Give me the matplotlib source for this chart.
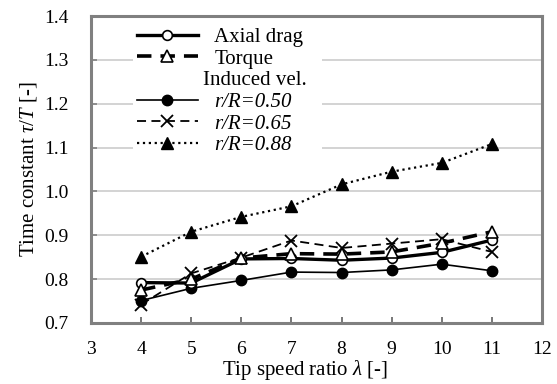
import matplotlib
matplotlib.use("Agg")
import matplotlib.pyplot as plt
from matplotlib.lines import Line2D

plt.rcParams['font.family'] = ['Liberation Serif', 'DejaVu Serif']
plt.rcParams['mathtext.fontset'] = 'custom'
plt.rcParams['mathtext.rm'] = 'Liberation Serif'
plt.rcParams['mathtext.it'] = 'Liberation Serif:italic'

# tip speed ratio
tsr = [4, 5, 6, 7, 8, 9, 10, 11]

# time constants
axial_drag = [0.792, 0.791, 0.846, 0.847, 0.843, 0.848, 0.861, 0.889]
torque = [0.775, 0.800, 0.848, 0.858, 0.857, 0.862, 0.882, 0.908]
ind_050 = [0.751, 0.779, 0.797, 0.816, 0.815, 0.821, 0.834, 0.819]
ind_065 = [0.742, 0.813, 0.849, 0.888, 0.871, 0.881, 0.891, 0.862]
ind_088 = [0.851, 0.908, 0.942, 0.966, 1.016, 1.045, 1.065, 1.108]

fig = plt.figure(figsize=(5.57, 3.84), dpi=100)
ax = fig.add_axes([0.1634, 0.159, 0.8096, 0.7993])

ax.plot(tsr, axial_drag, '-', color='black', lw=2.4, marker='o', ms=7,
        mfc='white', mec='black', mew=1.2, label='Axial drag', zorder=4)
ax.plot(tsr, torque, '--', color='black', lw=2.6, dashes=(4, 2.5), marker='^',
        ms=8, mfc='white', mec='black', mew=1.2, label='Torque', zorder=5)
header = Line2D([], [], linestyle='none', marker=None, label='Induced vel.')
ax.plot(tsr, ind_050, '-', color='black', lw=1.2, marker='o', ms=7.5,
        mfc='black', mec='black', label='r/R=0.50', zorder=3)
ax.plot(tsr, ind_065, '--', color='black', lw=1.3, dashes=(5, 3), marker='x',
        ms=9, mew=1.3, label='r/R=0.65', zorder=3)
ax.plot(tsr, ind_088, ':', color='black', lw=1.6, marker='^', ms=9,
        mfc='black', mec='black', label='r/R=0.88', zorder=3)

ax.set_xlim(3, 12)
ax.set_ylim(0.7, 1.4)
ax.set_xticks(range(3, 13))
ax.set_yticks([0.7, 0.8, 0.9, 1.0, 1.1, 1.2, 1.3, 1.4])
ax.set_yticklabels(['0.7', '0.8', '0.9', '1.0', '1.1', '1.2', '1.3', '1.4'])
ax.yaxis.grid(True, color='#cccccc', lw=1.2)
ax.set_axisbelow(True)
for sp in ax.spines.values():
    sp.set_color('#808080')
    sp.set_linewidth(2.2)
ax.tick_params(axis='x', direction='in', length=4, width=1.2, color='#606060',
               labelsize=14, pad=13)
ax.tick_params(axis='y', direction='in', length=4, width=1.2, color='#808080',
               labelsize=14, pad=16)

ax.set_xlabel(r'Tip speed ratio $\lambda$ [-]', fontsize=15, labelpad=-1)
ax.xaxis.set_label_coords(0.475, -0.115)
ax.set_ylabel(r'Time constant $\tau/T$ [-]', fontsize=15, labelpad=4)

h, l = ax.get_legend_handles_labels()
handles = h[:2] + [header] + h[2:]
labels = l[:2] + ['Induced vel.'] + l[2:]
leg = ax.legend(handles, labels, loc='upper left', bbox_to_anchor=(0.07, 1.01),
                frameon=True, fancybox=False, edgecolor='none', framealpha=1,
                fontsize=15, handlelength=2.9, handletextpad=0.8,
                labelspacing=0.1, borderpad=0.2)
for t in leg.get_texts()[3:]:
    t.set_fontstyle('italic')

# the header sits a little left of the other legend texts
fig.canvas.draw()
head_txt = leg.get_texts()[2]
bb = head_txt.get_window_extent()
head_txt.set_alpha(0)
fig.text(bb.x0 - 11, bb.y0, 'Induced vel.', transform=None, fontsize=15,
         va='bottom', ha='left', zorder=10)

fig.savefig('out.png', dpi=100)
